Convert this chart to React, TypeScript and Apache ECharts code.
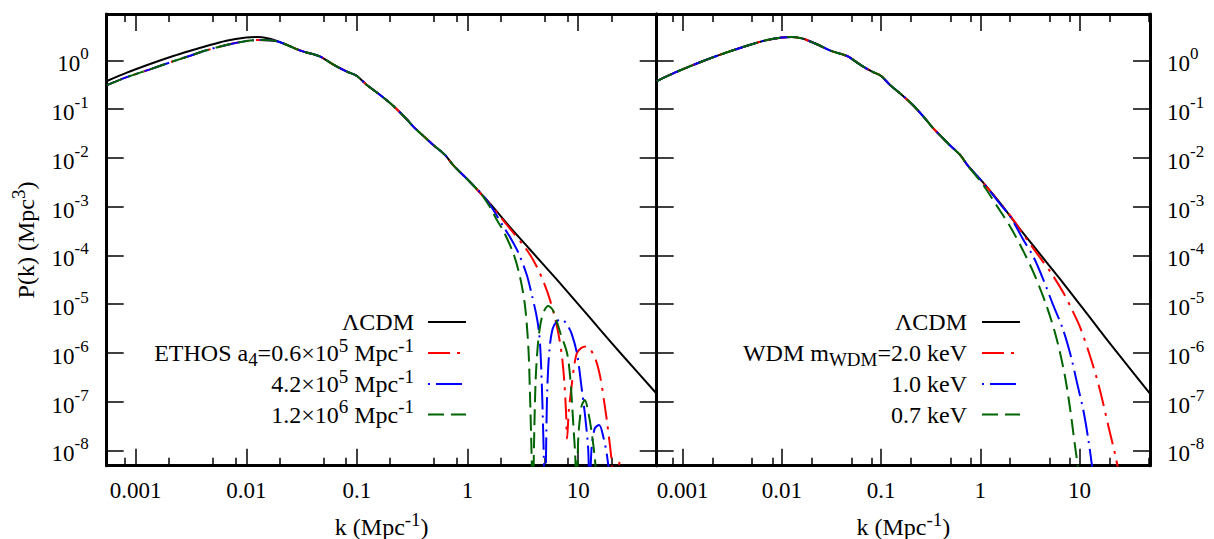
import React, { useEffect, useRef } from "react";
import * as echarts from "echarts";

// ---------- axis ranges (log10 units) ----------
const X_LOG_MIN = -3.262;
const X_LOG_MAX = 1.71;
const Y_LOG_MIN = -8.316;
const Y_LOG_MAX = 0.95;

// ---------- tick values ----------
const xTickK = [0.001, 0.01, 0.1, 1, 10];
const xTickLabels = ["0.001", "0.01", "0.1", "1", "10"];
const xMinorK = [0.0008, 0.002, 0.005, 0.008, 0.02, 0.05, 0.08, 0.2, 0.5, 0.8, 2, 5, 8, 20, 50];
const yTickExp = [-8, -7, -6, -5, -4, -3, -2, -1, 0];

// ---------- data (log10 k [Mpc^-1], log10 P [Mpc^3]) ----------
const lcdmLogK = [-3.26, -3.08, -2.87, -2.66, -2.5, -2.36, -2.18, -2.0, -1.9, -1.8, -1.75, -1.63, -1.51, -1.39, -1.33, -1.27, -1.18, -1.09, -1.0, -0.91, -0.79, -0.67, -0.55, -0.49, -0.4, -0.31, -0.2, -0.13, 0.02, 0.2, 0.38, 0.56, 0.8, 1.0, 1.2, 1.4, 1.71];
const lcdmLogP = [-0.425, -0.254, -0.076, 0.088, 0.2, 0.293, 0.403, 0.468, 0.478, 0.45, 0.417, 0.314, 0.198, 0.122, 0.075, -0.007, -0.13, -0.233, -0.322, -0.507, -0.712, -0.937, -1.21, -1.36, -1.55, -1.737, -1.95, -2.15, -2.49, -2.93, -3.41, -3.87, -4.48, -5.0, -5.53, -6.05, -6.84];

// ETHOS runs: low-k part (slightly below LCDM), then LCDM, then each own cut-off tail
const ethosLowLogK = [-3.26, -3.08, -2.87, -2.66, -2.5, -2.36, -2.18, -2.0, -1.9, -1.8, -1.72];
const ethosLowLogP = [-0.51, -0.345, -0.185, -0.02, 0.1, 0.205, 0.315, 0.395, 0.415, 0.41, 0.39];

const ethosRedLogK = [0.2, 0.3, 0.4, 0.5, 0.565, 0.625, 0.69, 0.746, 0.79, 0.825, 0.855, 0.875, 0.89, 0.9, 0.915, 0.94, 0.965, 0.99, 1.03, 1.07, 1.11, 1.16, 1.2, 1.235, 1.26, 1.29, 1.31, 1.33, 1.35, 1.38, 1.41, 1.43];
const ethosRedLogP = [-2.94, -3.22, -3.5, -3.78, -3.99, -4.23, -4.56, -4.92, -5.28, -5.65, -6.1, -6.6, -7.2, -7.76, -7.2, -6.7, -6.25, -6.0, -5.9, -5.87, -5.93, -6.15, -6.5, -7.0, -7.4, -7.95, -8.4, -9.5, -8.6, -8.23, -8.4, -9.5];

const ethosBlueLogK = [0.15, 0.233, 0.324, 0.4, 0.46, 0.535, 0.58, 0.62, 0.645, 0.66, 0.675, 0.69, 0.7, 0.71, 0.72, 0.74, 0.77, 0.81, 0.85, 0.9, 0.94, 0.99, 1.03, 1.06, 1.09, 1.105, 1.12, 1.15, 1.19, 1.23, 1.26, 1.285, 1.3];
const ethosBlueLogP = [-2.8, -3.07, -3.41, -3.69, -3.95, -4.4, -4.8, -5.2, -5.55, -6.0, -6.9, -8.2, -9.5, -8.0, -6.8, -5.95, -5.5, -5.35, -5.31, -5.43, -5.6, -6.02, -6.7, -7.24, -7.95, -9.0, -8.0, -7.55, -7.48, -7.75, -8.1, -8.6, -9.5];

const ethosGreenLogK = [0.1, 0.143, 0.2, 0.264, 0.324, 0.414, 0.475, 0.52, 0.55, 0.565, 0.58, 0.59, 0.6, 0.615, 0.635, 0.66, 0.69, 0.73, 0.77, 0.81, 0.84, 0.9, 0.93, 0.957, 0.975, 0.985, 1.0, 1.03, 1.06, 1.09, 1.12, 1.15, 1.17, 1.19];
const ethosGreenLogP = [-2.68, -2.8, -3.0, -3.27, -3.5, -3.96, -4.45, -5.05, -5.9, -6.9, -8.2, -9.5, -8.0, -6.6, -5.85, -5.4, -5.15, -5.04, -5.12, -5.38, -5.6, -6.01, -6.56, -7.5, -8.2, -9.5, -7.8, -7.1, -6.97, -7.2, -7.6, -8.15, -8.7, -9.5];

// WDM runs: LCDM then own tail
const wdmRedLogK = [0.3, 0.45, 0.585, 0.72, 0.84, 0.92, 1.0, 1.1, 1.2, 1.29, 1.36, 1.42];
const wdmRedLogP = [-3.18, -3.62, -4.0, -4.38, -4.78, -5.1, -5.45, -6.03, -6.72, -7.5, -8.1, -8.7];
const wdmBlueLogK = [0.1, 0.2, 0.3, 0.43, 0.535, 0.635, 0.73, 0.83, 0.91, 0.975, 1.04, 1.09, 1.13, 1.16];
const wdmBlueLogP = [-2.69, -2.95, -3.2, -3.67, -4.03, -4.5, -5.0, -5.5, -6.05, -6.62, -7.2, -7.8, -8.4, -9.0];
const wdmGreenLogK = [0.0, 0.05, 0.165, 0.3, 0.43, 0.55, 0.67, 0.77, 0.85, 0.905, 0.95, 0.98, 1.01];
const wdmGreenLogP = [-2.48, -2.62, -2.98, -3.41, -3.9, -4.42, -5.05, -5.72, -6.45, -7.15, -7.85, -8.3, -8.9];

// ---------- styles ----------
const FONT = "Liberation Serif, serif";
const FS_TICK = 23;
const FS_TICK_SUP = 17;
const FS = 24;
const FS_SMALL = 19;
const RED = "#ff0000";
const BLUE = "#0000ff";
const GREEN = "#006400";
const BLACK = "#000000";
const DASH_RED = [22, 7, 3, 7];
const DASH_BLUE = [26, 6, 2, 6];
const DASH_GREEN = [16, 7];

const pairs = (k: number[], p: number[]) => k.map((v, i) => [v, p[i]]);
const lcdmPts = pairs(lcdmLogK, lcdmLogP);
const ethosSeries = (tk: number[], tp: number[]) => {
  const lowEnd = ethosLowLogK[ethosLowLogK.length - 1];
  return [
    ...pairs(ethosLowLogK, ethosLowLogP),
    ...lcdmPts.filter((d) => d[0] > lowEnd && d[0] < tk[0]),
    ...pairs(tk, tp),
  ];
};
const wdmSeries = (tk: number[], tp: number[]) => [
  ...lcdmPts.filter((d) => d[0] < tk[0]),
  ...pairs(tk, tp),
];

const richText = {
  b: { fontSize: FS, fontFamily: FONT, color: "#000", verticalAlign: "middle" },
  sup: { fontSize: FS_SMALL, fontFamily: FONT, color: "#000", verticalAlign: "middle", padding: [0, 0, 16, 0] },
  sub: { fontSize: FS_SMALL, fontFamily: FONT, color: "#000", verticalAlign: "middle", padding: [13, 0, 0, 0] },
};
const richTick = {
  b: { fontSize: FS_TICK, fontFamily: FONT, color: "#000", verticalAlign: "bottom" },
  s: { fontSize: FS_TICK_SUP, fontFamily: FONT, color: "#000", verticalAlign: "top", padding: [0, 0, 13, 0] },
};

function buildOption() {
  const grids = [
    { left: 106.7, top: 14, width: 550, height: 451.7 },
    { left: 656.7, top: 14, width: 493.3, height: 451.7 },
  ];
  const majorX = xTickK.map((k) => Math.log10(k));
  const minorX = xMinorK.map((k) => Math.log10(k));
  const xFmt = (v: number) => {
    const i = majorX.findIndex((m) => Math.abs(m - v) < 1e-6);
    return i >= 0 ? xTickLabels[i] : "";
  };
  const axisLine = { show: true, onZero: false, lineStyle: { color: BLACK, width: 3 } };
  const noLine = { show: false, onZero: false };
  const xAxes: any[] = [];
  const yAxes: any[] = [];
  grids.forEach((_, g) => {
    ["bottom", "top"].forEach((pos) => {
      xAxes.push({
        gridIndex: g, type: "value", position: pos, min: X_LOG_MIN, max: X_LOG_MAX,
        axisLine, splitLine: { show: false },
        axisTick: { show: true, inside: true, length: 17, customValues: majorX, lineStyle: { color: BLACK, width: 1.5 } },
        axisLabel: pos === "bottom"
          ? { show: true, customValues: majorX, formatter: xFmt, margin: 13, fontSize: FS_TICK, fontFamily: FONT, color: BLACK }
          : { show: false },
      });
      xAxes.push({
        gridIndex: g, type: "value", position: pos, min: X_LOG_MIN, max: X_LOG_MAX,
        axisLine: noLine, splitLine: { show: false },
        axisTick: { show: true, inside: true, length: 8, customValues: minorX, lineStyle: { color: BLACK, width: 1.5 } },
        axisLabel: { show: false },
      });
    });
    ["left", "right"].forEach((pos) => {
      const showLabel = (g === 0 && pos === "left") || (g === 1 && pos === "right");
      yAxes.push({
        gridIndex: g, type: "value", position: pos, min: Y_LOG_MIN, max: Y_LOG_MAX,
        axisLine, splitLine: { show: false },
        axisTick: { show: true, inside: true, length: 17, customValues: yTickExp, lineStyle: { color: BLACK, width: 1.5 } },
        axisLabel: showLabel
          ? { show: true, customValues: yTickExp, margin: pos === "left" ? 18 : 17, fontFamily: FONT, formatter: (v: number) => `{b|10}{s|${Math.round(v)}}`, rich: richTick }
          : { show: false },
      });
    });
  });

  const line = (name: string, data: number[][], color: string, dash: any, xi: number, yi: number) => ({
    name, type: "line", xAxisIndex: xi, yAxisIndex: yi, data, showSymbol: false, symbol: "none",
    smooth: 0.3, clip: true, silent: true,
    lineStyle: { color, width: 2, type: dash },
  });

  const series = [
    line("ΛCDM", lcdmPts, BLACK, "solid", 0, 0),
    line("ETHOS a4=0.6e5", ethosSeries(ethosRedLogK, ethosRedLogP), RED, DASH_RED, 0, 0),
    line("ETHOS a4=4.2e5", ethosSeries(ethosBlueLogK, ethosBlueLogP), BLUE, DASH_BLUE, 0, 0),
    line("ETHOS a4=1.2e6", ethosSeries(ethosGreenLogK, ethosGreenLogP), GREEN, DASH_GREEN, 0, 0),
    line("ΛCDM ", lcdmPts, BLACK, "solid", 4, 2),
    line("WDM 2.0 keV", wdmSeries(wdmRedLogK, wdmRedLogP), RED, DASH_RED, 4, 2),
    line("WDM 1.0 keV", wdmSeries(wdmBlueLogK, wdmBlueLogP), BLUE, DASH_BLUE, 4, 2),
    line("WDM 0.7 keV", wdmSeries(wdmGreenLogK, wdmGreenLogP), GREEN, DASH_GREEN, 4, 2),
  ];

  const txt = (x: number, y: number, text: string, align: string, rotation = 0) => ({
    type: "text", x, y, rotation, silent: true,
    style: { text, rich: richText, align, verticalAlign: "middle", fontSize: FS, fontFamily: FONT, fill: "#000" },
  });
  const sample = (x1: number, x2: number, y: number, color: string, dash: any, offset = 0) => ({
    type: "line", silent: true,
    shape: { x1, y1: y, x2, y2: y },
    style: { stroke: color, lineWidth: 2, lineDash: dash, lineDashOffset: offset },
  });

  const rows = [322, 353, 384, 414.5];
  const leftLegend = [
    "{b|ΛCDM}",
    "{b|ETHOS a}{sub|4}{b|=0.6×10}{sup|5}{b| Mpc}{sup|-1}",
    "{b|4.2×10}{sup|5}{b| Mpc}{sup|-1}",
    "{b|1.2×10}{sup|6}{b| Mpc}{sup|-1}",
  ];
  const rightLegend = [
    "{b|ΛCDM}",
    "{b|WDM m}{sub|WDM}{b|=2.0 keV}",
    "{b|1.0 keV}",
    "{b|0.7 keV}",
  ];
  const colors = [BLACK, RED, BLUE, GREEN];
  const dashes: any[] = [null, DASH_RED, DASH_BLUE, DASH_GREEN];
  const offsets = [0, 0, 32, 0];
  const graphics: any[] = [];
  rows.forEach((y, i) => {
    graphics.push(txt(414, y, leftLegend[i], "right"));
    graphics.push(sample(428, 466, y, colors[i], dashes[i], offsets[i]));
    graphics.push(txt(967, y, rightLegend[i], "right"));
    graphics.push(sample(982, 1020, y, colors[i], dashes[i], offsets[i]));
  });
  graphics.push(txt(381.7, 527, "{b|k (Mpc}{sup|-1}{b|)}", "center"));
  graphics.push(txt(903.3, 527, "{b|k (Mpc}{sup|-1}{b|)}", "center"));
  graphics.push(txt(26, 240, "{b|P(k) (Mpc}{sup|3}{b|)}", "center", Math.PI / 2));

  return {
    animation: false,
    backgroundColor: "#ffffff",
    textStyle: { fontFamily: FONT },
    grid: grids,
    xAxis: xAxes,
    yAxis: yAxes,
    series,
    graphic: graphics,
  };
}

export default function App() {
  const ref = useRef<HTMLDivElement>(null);
  useEffect(() => {
    if (!ref.current) return;
    const chart = echarts.init(ref.current, undefined, { renderer: "svg" });
    chart.setOption(buildOption() as any);
    return () => chart.dispose();
  }, []);
  return (
    <div
      ref={ref}
      style={{ position: "absolute", left: 0, top: 0, width: 1214, height: 539, background: "#fff" }}
    />
  );
}
